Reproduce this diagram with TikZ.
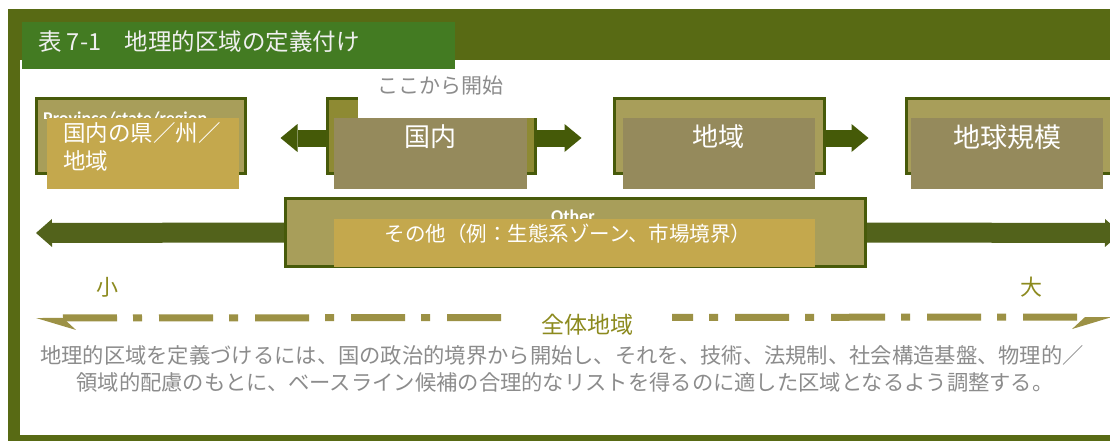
\documentclass[tikz,border=0pt]{standalone}
\usepackage{fontspec}
\setmainfont{Noto Sans CJK JP}
\newfontfamily\latinsans{Carlito}
\usetikzlibrary{arrows.meta,calc}
\definecolor{frameC}{RGB}{88,106,20}
\definecolor{titleC}{RGB}{67,123,34}
\definecolor{khakiC}{RGB}{168,158,90}
\definecolor{oliveC}{RGB}{142,138,51}
\definecolor{borderC}{RGB}{71,90,10}
\definecolor{grayboxC}{RGB}{149,138,92}
\definecolor{goldC}{RGB}{196,168,77}
\definecolor{arrowTopC}{RGB}{69,90,8}
\definecolor{arrowMidC}{RGB}{82,98,27}
\definecolor{dashC}{RGB}{156,145,69}
\definecolor{scaleTxtC}{RGB}{140,138,30}
\definecolor{grayTxtC}{RGB}{140,140,140}
\definecolor{titleTxtC}{RGB}{240,240,240}
\begin{document}
\begin{tikzpicture}[x=1pt,y=-1pt,
  boxA/.style={draw=borderC, line width=3pt, fill=khakiC, minimum height=75pt, inner sep=0pt},
  cover/.style={inner sep=0pt, anchor=north west},
  wtext/.style={text=white, inner sep=0pt},
  blockarrow/.style={draw=arrowTopC, line width=17pt, -{Triangle[width=28pt,length=17pt,line width=0pt]}},
  midarrow/.style={draw=arrowMidC, line width=20pt, -{Triangle[width=28pt,length=16pt,line width=0pt]}},
  scalearrow/.style={draw=dashC, line width=7pt, dash pattern=on 54pt off 16pt on 9pt off 17pt,
     {Stealth[harpoon,length=40pt,width=24pt,line width=0pt]}-{Stealth[harpoon,swap,length=40pt,width=24pt,line width=0pt]}},
  scaletext/.style={text=scaleTxtC, inner sep=0pt},
  desc/.style={text=grayTxtC, inner sep=0pt, font=\fontsize{21.3}{27}\selectfont}
]
\useasboundingbox (0,0) rectangle (1110,442);
\clip (0,0) rectangle (1110,442);
% frame
\fill[white] (0,0) rectangle (1110,442);
\fill[frameC] (8,9) rectangle (1110,441);
\fill[white] (20,60) rectangle (1110,435);
% boxes (positions)
\coordinate (lend) at (36,233);
\coordinate (rend) at (1121,233);
\node[boxA, minimum width=209pt] (b1) at (141,136) {};
\node[boxA, minimum width=208pt, fill=oliveC] (b2) at (431.5,136) {};
\node[boxA, minimum width=210pt] (b3) at (719.5,136) {};
\node[boxA, minimum width=208pt] (b4) at (1010.5,136) {};
\node[boxA, minimum width=580pt, minimum height=68pt] (bo) at (575.5,232.5) {};
% arrows
\draw[blockarrow, shorten >=33.5pt] ([yshift=-2pt]b2.west) -- ([yshift=-2pt]b1.east);
\draw[blockarrow, shorten >=31.5pt] ([yshift=-2pt]b2.east) -- ([yshift=-2pt]b3.west);
\draw[blockarrow, shorten >=36.5pt] ([yshift=-2pt]b3.east) -- ([yshift=-2pt]b4.west);
\draw[midarrow] (bo.west) -- (lend);
\draw[midarrow] (bo.east) -- (rend);
% redraw boxes over arrow ends
\node[boxA, minimum width=209pt] (b1r) at (141,136) {};
\node[boxA, minimum width=208pt, fill=oliveC] (b2r) at (431.5,136) {};
\node[boxA, minimum width=210pt] (b3r) at (719.5,136) {};
\node[boxA, minimum width=208pt] (b4r) at (1010.5,136) {};
\node[boxA, minimum width=580pt, minimum height=68pt] (bor) at (575.5,232.5) {};
% hidden English labels
\begin{scope}
\clip (38,100) rectangle (244,118);
\node[wtext, anchor=base west, font=\latinsans\bfseries\fontsize{18}{20}\selectfont] (prov) at (43,124) {Province/state/region};
\end{scope}
\begin{scope}
\clip (300,200) rectangle (860,219);
\node[wtext, anchor=base, font=\latinsans\bfseries\fontsize{18}{20}\selectfont] (other) at (573,222) {Other};
\end{scope}
% white cover and start note
\node[cover, fill=white, minimum width=202pt, minimum height=57pt] (wcover) at (358,61) {};
\node[text=grayTxtC, inner sep=0pt, font=\fontsize{21}{24}\selectfont] (start) at (440,86) {ここから開始};
% title
\node[cover, fill=titleC, minimum width=433pt, minimum height=47pt] (title) at (22,22) {};
\node[anchor=west, text=titleTxtC, inner sep=0pt, font=\fontsize{23.5}{26}\selectfont] (titletext) at (38,42) {表 7-1　地理的区域の定義付け};
% overlays
\node[cover, fill=goldC, minimum width=192pt, minimum height=71pt] (o1) at (47,118) {};
\node[cover, fill=grayboxC, minimum width=193pt, minimum height=71pt] (o2) at (334,118) {};
\node[cover, fill=grayboxC, minimum width=192pt, minimum height=71pt] (o3) at (623,118) {};
\node[cover, fill=grayboxC, minimum width=192pt, minimum height=71pt] (o4) at (911,118) {};
\node[cover, fill=goldC, minimum width=481pt, minimum height=48pt] (oo) at (334,219) {};
% texts
\node[wtext, anchor=base west, font=\fontsize{22.5}{27}\selectfont] (t1a) at (63,141.5) {国内の県／州／};
\node[wtext, anchor=base west, font=\fontsize{22.5}{27}\selectfont] (t1b) at (63,169) {地域};
\node[wtext, font=\fontsize{26}{30}\selectfont] (t2) at (430,137) {国内};
\node[wtext, font=\fontsize{26}{30}\selectfont] (t3) at (718,137) {地域};
\node[wtext, font=\fontsize{27}{30}\selectfont] (t4) at (1007,137) {地球規模};
\node[wtext, font=\fontsize{20.5}{24}\selectfont] (to) at (568,234) {その他（例：生態系ゾーン、市場境界）};
% scale
\coordinate (sl) at (36,318);
\coordinate (sr) at (1112,317);
\draw[scalearrow] (sl) -- (sr);
\node[scaletext, font=\fontsize{22}{26}\selectfont] (small) at (107,287) {小};
\node[scaletext, font=\fontsize{22}{26}\selectfont] (large) at (1031,287) {大};
\node[scaletext, fill=white, minimum width=169pt, minimum height=30pt, font=\fontsize{23}{26}\selectfont] (whole) at (587,325) {全体地域};
% description
\node[desc] (d1) at (562,355) {地理的区域を定義づけるには、国の政治的境界から開始し、それを、技術、法規制、社会構造基盤、物理的／};
\node[desc] (d2) at (565,382) {領域的配慮のもとに、ベースライン候補の合理的なリストを得るのに適した区域となるよう調整する。};
\end{tikzpicture}
\end{document}
